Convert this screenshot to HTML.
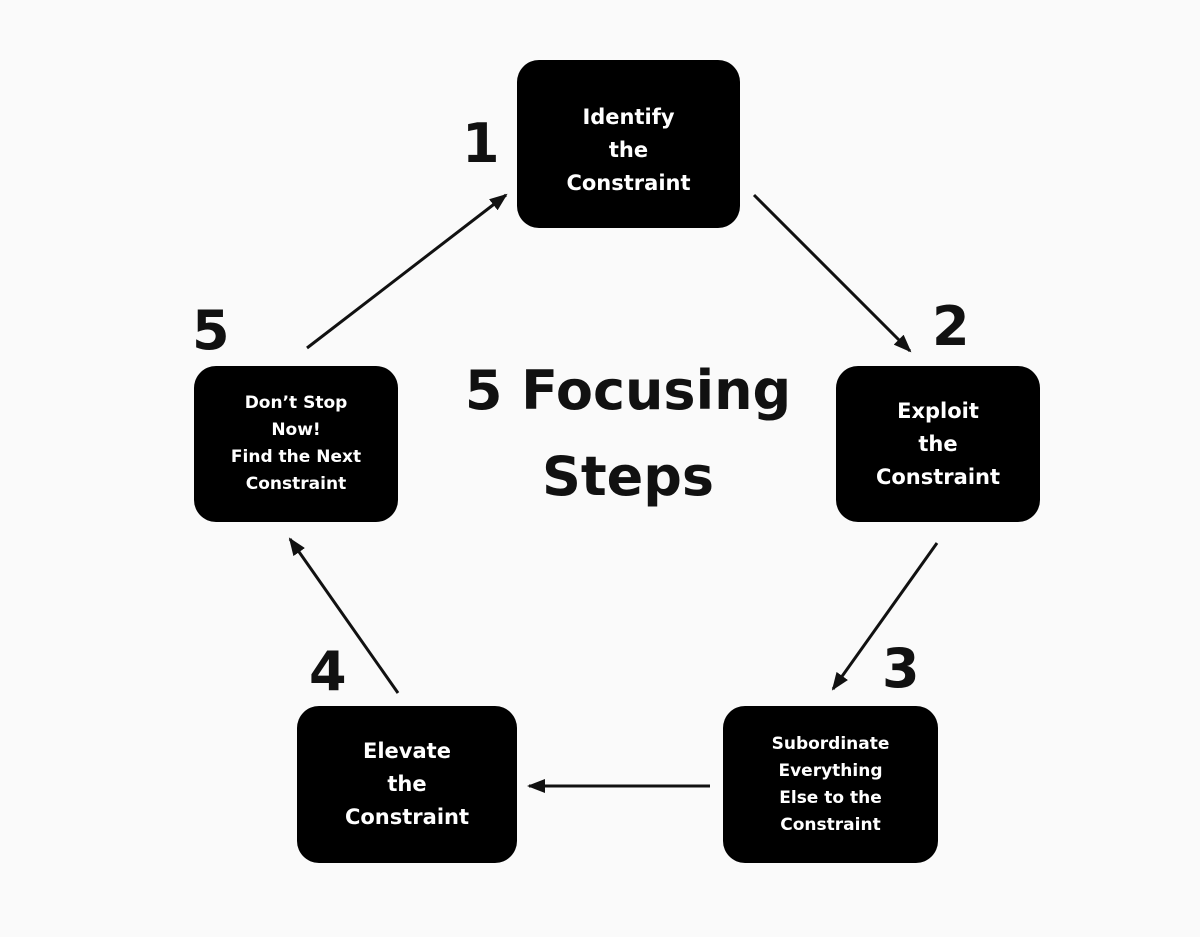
<!DOCTYPE html>
<html><head><meta charset="utf-8"><style>
body{margin:0;width:1200px;height:937px;background:#fafafa;position:relative;overflow:hidden;font-family:"DejaVu Sans","Liberation Sans",sans-serif;font-weight:bold}
.b{position:absolute;background:#000;color:#fff;border-radius:22px;display:flex;align-items:center;justify-content:center;text-align:center;box-sizing:border-box}
.n{position:absolute;font-size:54px;color:#111;line-height:1}
</style></head><body>
<div class="b" style="left:517px;top:60px;width:223px;height:168px;font-size:21px;line-height:33px;padding-top:12px">Identify<br>the<br>Constraint</div>
<div class="b" style="left:836px;top:366px;width:204px;height:156px;font-size:21px;line-height:33px">Exploit<br>the<br>Constraint</div>
<div class="b" style="left:194px;top:366px;width:204px;height:156px;font-size:17px;line-height:27px">Don’t Stop<br>Now!<br>Find the Next<br>Constraint</div>
<div class="b" style="left:297px;top:706px;width:220px;height:157px;font-size:21px;line-height:33px">Elevate<br>the<br>Constraint</div>
<div class="b" style="left:723px;top:706px;width:215px;height:157px;font-size:17px;line-height:27px">Subordinate<br>Everything<br>Else to the<br>Constraint</div>
<div class="n" style="left:462px;top:117px">1</div>
<div class="n" style="left:932px;top:300px">2</div>
<div class="n" style="left:192px;top:304px">5</div>
<div class="n" style="left:309px;top:645px">4</div>
<div class="n" style="left:882px;top:642px">3</div>
<div style="position:absolute;left:430px;top:348px;width:396px;text-align:center;font-size:54px;line-height:86px;color:#111">5 Focusing<br>Steps</div>
<svg width="1200" height="937" style="position:absolute;left:0;top:0">
<defs>
<marker id="m" markerWidth="18" markerHeight="14" refX="16" refY="7" orient="auto" markerUnits="userSpaceOnUse"><path d="M0,0 L18,7 L0,14 z" fill="#111"/></marker></defs>
<g stroke="#111" stroke-width="3" fill="none">
<line x1="754" y1="195" x2="910" y2="351" marker-end="url(#m)"/>
<line x1="937" y1="543" x2="833" y2="689" marker-end="url(#m)"/>
<line x1="710" y1="786" x2="529" y2="786" marker-end="url(#m)"/>
<line x1="398" y1="693" x2="290" y2="539" marker-end="url(#m)"/>
<line x1="307" y1="348" x2="506" y2="195" marker-end="url(#m)"/>
</g></svg>
</body></html>
